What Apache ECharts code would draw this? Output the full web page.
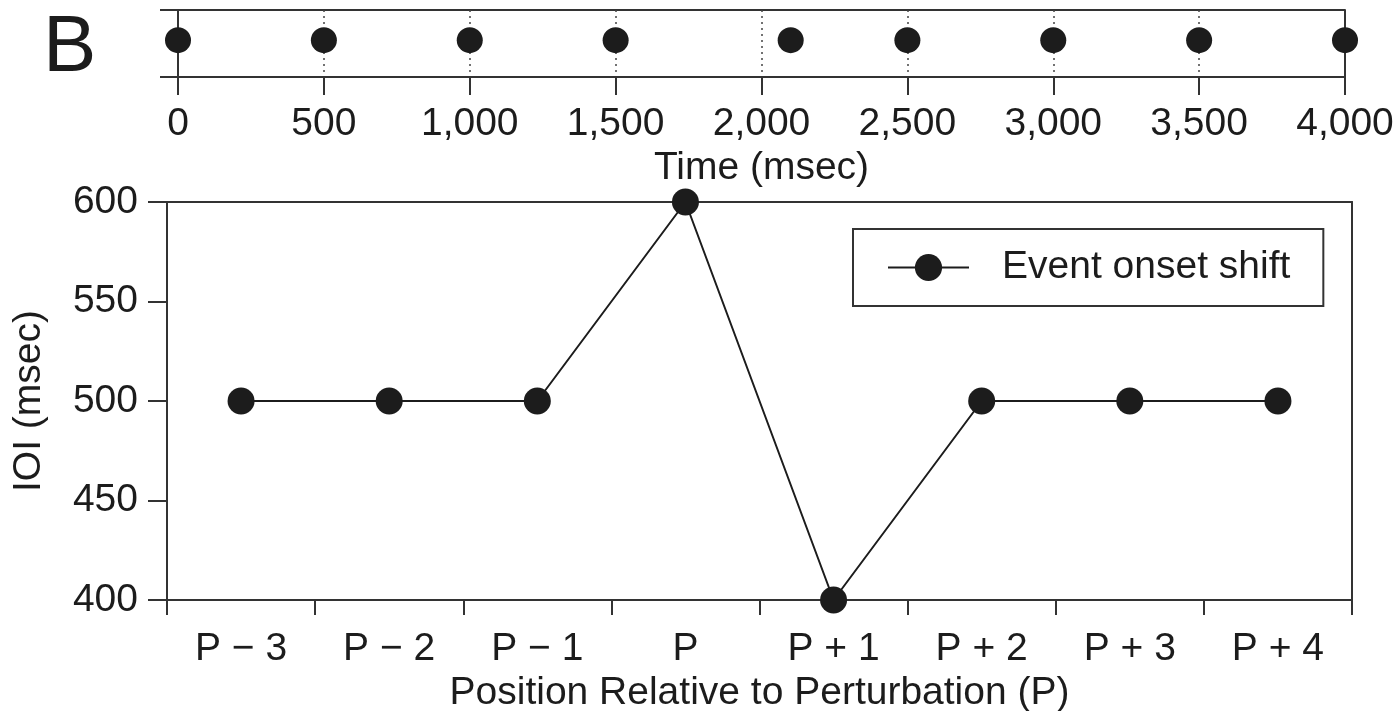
<!DOCTYPE html>
<html>
<head>
<meta charset="utf-8">
<script src="https://cdn.jsdelivr.net/npm/echarts@6/dist/echarts.min.js"></script>
<style>
    html, body { margin: 0; padding: 0; background: #fff; }
    #chart { width: 1394px; height: 711px; }
</style>
</head>
<body>
<div id="chart"></div>
<script>
    // top panel: event onsets in time
    var onsetTimes = [0, 500, 1000, 1500, 2100, 2500, 3000, 3500, 4000];
    // bottom panel: IOI per position
    var positions = ['P \u2212 3', 'P \u2212 2', 'P \u2212 1', 'P', 'P + 1', 'P + 2', 'P + 3', 'P + 4'];
    var ioiValues = [500, 500, 500, 600, 400, 500, 500, 500];

    var ink = '#1c1c1c';
    var frame = '#333';
    var font = 'Liberation Sans, Arial, sans-serif';
    var labelSize = 39;

    var chart = echarts.init(document.getElementById('chart'));

    chart.setOption({
        animation: false,
        title: {
            text: 'B',
            left: 38,
            top: 4,
            textStyle: { fontSize: 80, fontWeight: 'normal', color: ink, fontFamily: font }
        },
        legend: {
            data: ['Event onset shift'],
            left: 853,
            top: 229,
            orient: 'horizontal',
            itemWidth: 81,
            itemHeight: 34,
            padding: [19, 33, 19, 34],
            borderColor: frame,
            borderWidth: 2,
            textStyle: { fontSize: labelSize, color: ink, fontFamily: font, padding: [0, 0, 0, 28] }
        },
        grid: [
            { left: 178, right: 49, top: 10, height: 67, outerBoundsMode: 'none' },
            { left: 167, right: 42, top: 202, height: 398, outerBoundsMode: 'none' }
        ],
        xAxis: [
            {
                gridIndex: 0,
                type: 'value',
                min: 0,
                max: 4000,
                interval: 500,
                name: 'Time (msec)',
                nameLocation: 'middle',
                nameGap: 72,
                nameTextStyle: { fontSize: labelSize, color: ink, fontFamily: font },
                axisLine: { show: true, lineStyle: { color: frame, width: 2 } },
                axisTick: { show: true, length: 18, lineStyle: { color: frame, width: 2 } },
                axisLabel: {
                    fontSize: labelSize, color: ink, fontFamily: font, margin: 28,
                    formatter: function (v) { return v.toLocaleString('en-US'); }
                },
                splitLine: { show: true, lineStyle: { color: '#444', type: [2, 4], width: 1.5 } }
            },
            {
                gridIndex: 1,
                type: 'category',
                data: positions,
                boundaryGap: true,
                name: 'Position Relative to Perturbation (P)',
                nameLocation: 'middle',
                nameGap: 70,
                nameTextStyle: { fontSize: labelSize, color: ink, fontFamily: font },
                axisLine: { show: true, lineStyle: { color: frame, width: 2 } },
                axisTick: { show: true, length: 15, lineStyle: { color: frame, width: 2 } },
                axisLabel: { fontSize: labelSize, color: ink, fontFamily: font, margin: 30 },
                splitLine: { show: false }
            },
            {
                // top border of lower panel
                gridIndex: 1,
                type: 'category',
                data: positions,
                position: 'top',
                axisLine: { show: true, lineStyle: { color: frame, width: 2 } },
                axisTick: { show: false },
                axisLabel: { show: false },
                splitLine: { show: false }
            }
        ],
        yAxis: [
            {
                gridIndex: 0,
                type: 'value',
                min: 0,
                max: 1,
                interval: 1,
                axisLine: { show: true, lineStyle: { color: frame, width: 2 } },
                axisTick: { show: true, length: 18, lineStyle: { color: frame, width: 2 } },
                axisLabel: { show: false },
                splitLine: { show: true, lineStyle: { color: frame, width: 2 } }
            },
            {
                gridIndex: 0,
                type: 'value',
                min: 0,
                max: 1,
                position: 'right',
                axisLine: { show: true, lineStyle: { color: frame, width: 2 } },
                axisTick: { show: false },
                axisLabel: { show: false },
                splitLine: { show: false }
            },
            {
                gridIndex: 1,
                type: 'value',
                min: 400,
                max: 600,
                interval: 50,
                name: 'IOI (msec)',
                nameLocation: 'middle',
                nameGap: 118,
                nameTextStyle: { fontSize: labelSize, color: ink, fontFamily: font },
                axisLine: { show: true, lineStyle: { color: frame, width: 2 } },
                axisTick: { show: true, length: 19, lineStyle: { color: frame, width: 2 } },
                axisLabel: { fontSize: labelSize, color: ink, fontFamily: font, margin: 29 },
                splitLine: { show: false }
            },
            {
                // right border of lower panel
                gridIndex: 1,
                type: 'value',
                min: 400,
                max: 600,
                position: 'right',
                axisLine: { show: true, lineStyle: { color: frame, width: 2 } },
                axisTick: { show: false },
                axisLabel: { show: false },
                splitLine: { show: false }
            }
        ],
        series: [
            {
                name: 'onsets',
                type: 'scatter',
                xAxisIndex: 0,
                yAxisIndex: 0,
                symbol: 'circle',
                symbolSize: 26,
                itemStyle: { color: ink, opacity: 1 },
                data: onsetTimes.map(function (t) { return [t, 0.55]; }),
                z: 5
            },
            {
                name: 'Event onset shift',
                type: 'line',
                xAxisIndex: 1,
                yAxisIndex: 2,
                data: ioiValues,
                symbol: 'circle',
                symbolSize: 27,
                showAllSymbol: true,
                clip: false,
                lineStyle: { color: ink, width: 2 },
                itemStyle: { color: ink },
                z: 5
            }
        ]
    });
</script>
</body>
</html>
